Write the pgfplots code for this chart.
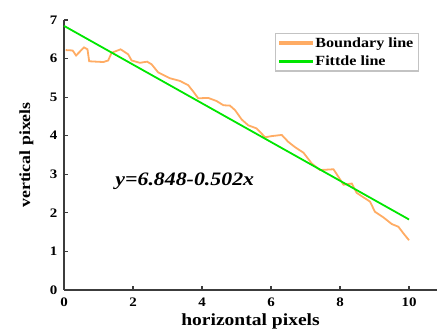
\documentclass[border=0pt]{standalone}
\usepackage{fontspec}
\setmainfont[FakeStretch=1.15]{Liberation Serif}
\usepackage{pgfplots}
\pgfplotsset{compat=1.18}
\definecolor{orangeL}{RGB}{255,172,100}
\definecolor{greenL}{RGB}{0,230,0}
\definecolor{axgray}{RGB}{60,60,60}
\definecolor{leggray}{RGB}{195,195,195}
\begin{document}
\begin{tikzpicture}
\begin{axis}[
  scale only axis,
  width=373pt, height=270pt,
  xmin=0, xmax=10.81, ymin=0, ymax=7,
  axis lines=left,
  axis line style={-, axgray, line width=1.4pt},
  xtick={0,2,4,6,8,10},
  ytick={0,1,2,3,4,5,6,7},
  tick align=inside,
  major tick length=4pt,
  tick style={axgray, line width=1.2pt},
  /pgf/number format/assume math mode=true,
  ticklabel style={font=\fontsize{13}{14}\selectfont\bfseries},
  xticklabel style={yshift=-4pt},
  yticklabel style={xshift=-3pt},
  xlabel={horizontal pixels},
  ylabel={vertical pixels},
  xlabel style={font=\fontsize{17}{19}\selectfont\bfseries, at={(axis description cs:0.5,0)}, anchor=base, yshift=-36pt},
  ylabel style={font=\fontsize{15.5}{17}\selectfont\bfseries, at={(axis description cs:-0.1005,0.5)}, anchor=center, rotate=0},
  legend style={at={(rel axis cs:0.952,0.952)}, anchor=north east, draw=leggray, line width=1.4pt, font=\fontsize{14}{15}\selectfont\bfseries, inner xsep=3pt, inner ysep=2pt, row sep=3pt},
  legend cell align=left,
  clip=false,
]
\addplot[orangeL, line width=1.8pt, legend image code/.code={\fill[orangeL] (0pt,-0.9pt) rectangle (33pt,0.9pt);}] coordinates {
(0.05,6.22) (0.25,6.21) (0.35,6.08) (0.58,6.29) (0.68,6.24) (0.73,5.93)
(1.14,5.91) (1.28,5.95) (1.38,6.15) (1.64,6.24) (1.86,6.11) (1.96,5.95)
(2.2,5.89) (2.41,5.92) (2.54,5.85) (2.73,5.64) (3.07,5.49) (3.36,5.42)
(3.6,5.31) (3.75,5.14) (3.89,4.97) (4.18,4.98) (4.42,4.9) (4.62,4.79)
(4.81,4.78) (4.96,4.66) (5.15,4.42) (5.34,4.27) (5.58,4.19) (5.83,3.96)
(6.02,3.99) (6.31,4.02) (6.5,3.84) (6.7,3.7) (6.94,3.56) (7.18,3.28)
(7.42,3.11) (7.81,3.13) (7.92,2.98) (8.1,2.73) (8.34,2.76) (8.48,2.52)
(8.87,2.29) (9.01,2.03) (9.26,1.88) (9.5,1.71) (9.69,1.64) (9.88,1.42)
(10.0,1.29)
};
\addlegendentry{Boundary line}
\addplot[greenL, line width=1.8pt, legend image code/.code={\fill[greenL] (0pt,-1pt) rectangle (33pt,1pt);}] coordinates {(0,6.848) (10,1.828)};
\addlegendentry{Fittde line}
\node[font=\fontsize{19}{21}\selectfont\bfseries\itshape] at (axis cs:3.5,2.82) {y=6.848-0.502x};
\end{axis}
\pgfresetboundingbox
\path ([shift={(-64pt,-39pt)}]current axis.south west) rectangle ([shift={(0pt,20pt)}]current axis.north east);
\end{tikzpicture}
\end{document}
